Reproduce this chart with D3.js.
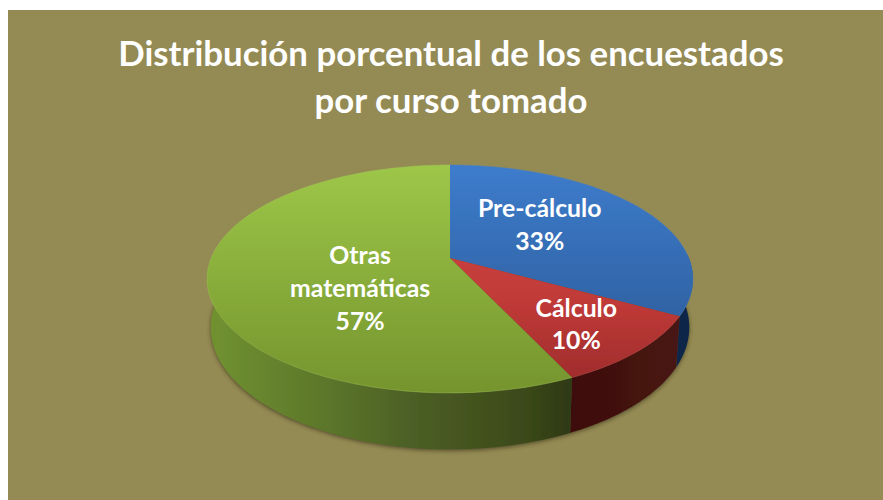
<!DOCTYPE html>
<html><head><meta charset="utf-8">
<script src="https://cdn.jsdelivr.net/npm/d3@7/dist/d3.min.js"></script>
<style>html,body{margin:0;padding:0;background:#fff}svg{display:block}</style>
</head><body><div id="chart"></div>
<script>
const titleLines = ["Distribución porcentual de los encuestados", "por curso tomado"];
const categories = ["Pre-cálculo", "Cálculo", "Otras matemáticas"];
const values = [33, 10, 57];

const W = 883, H = 500;
const svg = d3.select("#chart").append("svg").attr("width", W).attr("height", H);
const defs = svg.append("defs");

// vertical gradients for the top faces, horizontal for the walls
function grad(id, stops, horizontal) {
  const g = defs.append("linearGradient").attr("id", id).attr("gradientUnits", "userSpaceOnUse")
    .attr("x1", horizontal ? 207 : 0).attr("x2", horizontal ? 693 : 0)
    .attr("y1", horizontal ? 0 : 165).attr("y2", horizontal ? 0 : 393);
  stops.forEach(s => g.append("stop").attr("offset", s[0]).attr("stop-color", s[1]));
}
grad("topBlue", [[0, "#3d7ccc"], [1, "#2a5690"]]);
grad("topRed", [[0, "#d84a48"], [0.6, "#c03a38"], [1, "#9a2a2a"]]);
grad("topGreen", [[0, "#9dc748"], [1, "#75942e"]]);
grad("wallBlue", [[0, "#17365f"], [1, "#0f2747"]], true);
grad("wallRed", [[0, "#3e0f0f"], [0.75, "#3e0f0f"], [0.97, "#481412"], [1, "#481412"]], true);
grad("wallGreen", [[0, "#71922f"], [0.03, "#6f8f30"], [0.24, "#5c772b"], [0.44, "#4a5d24"], [0.65, "#3c4a1a"], [0.74, "#2f3a12"], [1, "#2f3a12"]], true);
const topFill = ["url(#topBlue)", "url(#topRed)", "url(#topGreen)"];
const wallFill = ["url(#wallBlue)", "url(#wallRed)", "url(#wallGreen)"];

defs.append("filter").attr("id", "soft").append("feGaussianBlur").attr("stdDeviation", 0.5);
defs.append("filter").attr("id", "shadow").attr("x", "-10%").attr("y", "-10%").attr("width", "120%").attr("height", "120%")
  .append("feGaussianBlur").attr("stdDeviation", 2.2);

// panel
svg.append("rect").attr("x", 8).attr("y", 10).attr("width", W - 8).attr("height", H - 10).attr("fill", "#948a54");

// perspective projection of the unit disc
const cx = 450, cy = 258, A = 238.8, B = 110.1, k = 0.184;
const topPt = (a, r = 1) => {
  const u = r * Math.sin(a), v = -r * Math.cos(a), w = 1 - k * v;
  return [cx + A * u / w, cy + B * v / w];
};
const botPt = a => {
  const p = topPt(a);
  return [cx + 0.985 * (p[0] - cx), 305 + 1.07 * (p[1] - cy)];
};

const pie = d3.pie().sort(null).value(d => d);
const arcs = pie(values);
const line = d3.line();
const samples = (a0, a1) => d3.range(0, 61).map(i => a0 + (a1 - a0) * i / 60);
const rad = d => d * Math.PI / 180;

const pieG = svg.append("g").attr("filter", "url(#soft)");

// ground shadow
const ring = samples(0, 2 * Math.PI);
svg.insert("path", "g").attr("d", line(ring.map(a => { const p = botPt(a); return [p[0], p[1] + 1.5]; })) + "Z")
  .attr("fill", "#2e2a12").attr("opacity", 0.65).attr("filter", "url(#shadow)");

// walls (front half only)
arcs.forEach((d, i) => {
  const a0 = Math.max(d.startAngle, rad(88)), a1 = Math.min(d.endAngle, rad(272));
  if (a1 <= a0) return;
  const s = samples(a0, a1);
  pieG.append("path").attr("d", line(s.map(a => topPt(a)).concat(s.slice().reverse().map(botPt))) + "Z")
    .attr("fill", wallFill[i]);
});

// top faces
arcs.forEach((d, i) => {
  const pts = [[cx, cy]].concat(samples(d.startAngle, d.endAngle).map(a => topPt(a)));
  pieG.append("path").attr("d", line(pts) + "Z").attr("fill", topFill[i]);
});

// lighter rim on the top faces
const rim = ["#4a80c4", "#c24a46", "#a2c956"];
arcs.forEach((d, i) => {
  pieG.append("path").attr("d", line(samples(d.startAngle, d.endAngle).map(a => topPt(a))))
    .attr("fill", "none").attr("stroke", rim[i]).attr("stroke-width", 1).attr("opacity", 0.45);
});

// title
svg.append("g").selectAll("text").data(titleLines).join("text")
  .attr("x", 451).attr("y", (d, i) => 66 + i * 47)
  .attr("text-anchor", "middle").attr("fill", "#fff")
  .style("font", "700 34.8px Lato, sans-serif")
  .text(d => d);

// data labels
const labelRadius = [0.455, 0.7, 0.38];
const labelNudge = [-8, 5, 22];
arcs.forEach((d, i) => {
  const p = topPt((d.startAngle + d.endAngle) / 2, labelRadius[i]);
  const rows = categories[i].split(" ").concat([d3.format(".0f")(values[i]) + "%"]);
  svg.append("g").selectAll("text").data(rows).join("text")
    .attr("x", p[0])
    .attr("y", (t, j) => p[1] + labelNudge[i] + 8 + (j - (rows.length - 1) / 2) * 32.8)
    .attr("text-anchor", "middle").attr("fill", "#fff")
    .style("font", "700 24.8px Lato, sans-serif")
    .text(t => t);
});
</script></body></html>
